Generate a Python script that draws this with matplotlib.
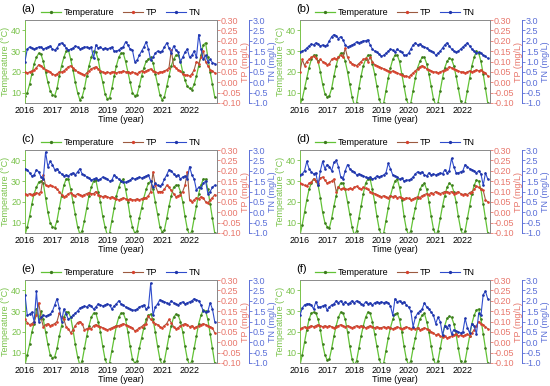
import numpy as np
import pandas as pd
import matplotlib
matplotlib.use("Agg")
import matplotlib.pyplot as plt
from matplotlib.ticker import FormatStrFormatter, MultipleLocator

plt.rcParams['font.family'] = ['Liberation Sans', 'DejaVu Sans']

# monthly samples, Jan 2016 - Dec 2022
months = pd.date_range("2016-01-01", periods=84, freq="MS")
year_ticks = [2016, 2017, 2018, 2019, 2020, 2021, 2022]
panel_labels = ["(a)", "(b)", "(c)", "(d)", "(e)", "(f)"]

# ---- (a) ----
temp_a = [8.5, 10, 14, 19, 24, 27, 29, 28.5, 25, 20, 15, 11,
          9, 8.5, 12, 18, 23, 27, 30, 30.5, 26, 21, 15, 10,
          6.5, 8, 12, 18, 23, 27, 30, 29.5, 26, 20, 15, 9.5,
          7, 7.5, 12, 18, 23, 27, 29, 29, 25, 20, 15, 10,
          8.5, 9, 13, 18, 22, 25, 26, 27, 24.5, 19, 14, 9,
          6.5, 8, 13, 18, 23, 26, 28, 28, 25, 20, 16, 13,
          12, 11.5, 14, 18, 23, 28, 33, 34, 27, 20, 14, 8]
tp_a = [0.05, 0.045, 0.05, 0.055, 0.06, 0.07, 0.085, 0.08, 0.07, 0.06, 0.055, 0.05,
        0.04, 0.035, 0.04, 0.05, 0.05, 0.055, 0.065, 0.075, 0.08, 0.07, 0.06, 0.05,
        0.045, 0.04, 0.035, 0.045, 0.055, 0.065, 0.07, 0.075, 0.065, 0.055, 0.05, 0.045,
        0.05, 0.045, 0.05, 0.05, 0.045, 0.05, 0.05, 0.055, 0.05, 0.05, 0.045, 0.05,
        0.045, 0.04, 0.05, 0.055, 0.05, 0.055, 0.06, 0.065, 0.055, 0.05, 0.045, 0.05,
        0.05, 0.055, 0.06, 0.07, 0.155, 0.08, 0.07, 0.06, 0.055, 0.04, 0.035, 0.035,
        0.03, 0.04, 0.06, 0.1, 0.09, 0.12, 0.15, 0.1, 0.08, 0.06, 0.055, 0.045]
tn_a = [1.0, 1.6, 1.7, 1.65, 1.6, 1.65, 1.7, 1.7, 1.6, 1.65, 1.7, 1.75,
        1.6, 1.55, 1.65, 1.85, 1.9, 1.8, 1.65, 1.55, 1.6, 1.65, 1.75, 1.7,
        1.6, 1.65, 1.7, 1.7, 1.65, 1.7, 1.15, 1.8, 1.65, 1.7, 1.6, 1.65,
        1.6, 1.65, 1.7, 1.5, 1.5, 1.55, 1.65, 1.7, 1.95, 1.8, 1.6, 1.55,
        1.0, 1.05, 1.3, 1.5, 1.7, 1.95, 1.6, 1.05, 1.2, 1.4, 1.5, 1.45,
        1.5, 1.7, 1.9, 1.65, 1.4, 1.75, 1.55, 1.45, 1.0, 1.2, 1.45, 1.6,
        1.2, 1.3, 1.5, 1.2, 2.3, 1.6, 1.1, 1.3, 1.0, 1.1, 0.95, 0.9]

# ---- (b) ----
temp_b = [4, 7, 12, 17, 22, 26, 28, 28, 25, 20, 14, 9.5,
          8, 8.5, 12, 18, 23, 27, 29, 29, 25, 20, 14, 8,
          4, 5, 12, 18, 23, 26, 28, 28, 24, 19, 13, 7,
          4, 5, 11, 17, 22, 26, 28, 28, 25, 19, 13, 7,
          4, 5, 11, 17, 22, 25, 27, 27, 24, 19, 13, 7,
          4, 5, 11, 17, 22, 25, 26.5, 26, 23, 18, 12, 6,
          4, 5, 11, 17, 23, 27, 30, 29, 25, 19, 12, 5]
tp_b = [0.05, 0.11, 0.08, 0.1, 0.11, 0.12, 0.125, 0.115, 0.1, 0.11, 0.1, 0.095,
        0.085, 0.09, 0.11, 0.115, 0.11, 0.12, 0.13, 0.12, 0.165, 0.12, 0.1, 0.09,
        0.085, 0.08, 0.09, 0.1, 0.11, 0.115, 0.1, 0.12, 0.1, 0.085, 0.08, 0.075,
        0.07, 0.065, 0.06, 0.055, 0.05, 0.055, 0.05, 0.045, 0.04, 0.035, 0.03, 0.03,
        0.025, 0.035, 0.045, 0.055, 0.065, 0.075, 0.08, 0.075, 0.065, 0.06, 0.055, 0.05,
        0.05, 0.045, 0.05, 0.055, 0.06, 0.065, 0.075, 0.07, 0.065, 0.06, 0.055, 0.05,
        0.05, 0.045, 0.05, 0.055, 0.05, 0.055, 0.06, 0.055, 0.06, 0.05, 0.045, 0.03]
tn_b = [1.45, 1.5, 1.55, 1.65, 1.75, 1.85, 1.8, 1.9, 1.85, 1.75, 1.8, 1.75,
        1.8, 2.0, 2.2, 2.3, 2.25, 2.1, 2.2, 2.05, 1.8, 1.7, 1.75, 1.8,
        1.85, 1.95, 1.9, 1.95, 2.0, 2.0, 2.05, 1.8, 1.6, 1.5, 1.45, 1.35,
        1.25, 1.3, 1.4, 1.5, 1.6, 1.55, 1.45, 1.6, 1.5, 1.45, 1.3, 1.3,
        1.4, 1.6, 1.8, 1.9, 1.8, 1.85, 1.75, 1.7, 1.65, 1.55, 1.5, 1.45,
        1.3, 1.4, 1.5, 1.65, 1.8, 1.9, 1.75, 1.6, 1.5, 1.45, 1.5, 1.6,
        1.7, 1.8, 1.9, 1.75, 1.6, 1.5, 1.4, 1.45, 1.4, 1.3, 1.25, 1.15]

# ---- (c) ----
temp_c = [4, 8, 13, 19, 24, 27, 29.5, 30, 29, 22, 15, 10,
          8, 7.5, 11, 17, 23, 28, 31, 31, 26, 20, 14, 8,
          4.5, 6, 11, 17, 23, 27, 30, 30.5, 25, 20, 13, 8,
          4, 5, 11, 17, 23, 27, 30, 31, 26, 20, 13, 8,
          5, 6, 12, 17, 22, 26, 29, 30, 26, 20, 14, 8,
          5.5, 6.5, 12, 18, 23, 27, 28, 28, 25, 20, 13, 7,
          4, 6, 12, 18, 24, 28, 31, 31, 26, 19, 12, 5]
tp_c = [0.09, 0.085, 0.09, 0.085, 0.09, 0.095, 0.09, 0.1, 0.18, 0.13, 0.125, 0.13,
        0.125, 0.12, 0.11, 0.1, 0.085, 0.075, 0.08, 0.09, 0.095, 0.085, 0.08, 0.09,
        0.085, 0.08, 0.085, 0.09, 0.095, 0.09, 0.09, 0.1, 0.085, 0.08, 0.075, 0.08,
        0.075, 0.07, 0.075, 0.07, 0.065, 0.06, 0.065, 0.07, 0.065, 0.06, 0.065, 0.06,
        0.06, 0.065, 0.06, 0.065, 0.07, 0.07, 0.08, 0.1, 0.195, 0.13, 0.1, 0.1,
        0.1, 0.11, 0.13, 0.12, 0.105, 0.09, 0.075, 0.08, 0.085, 0.1, 0.13, 0.195,
        0.06, 0.05, 0.06, 0.07, 0.065, 0.075, 0.07, 0.05, 0.045, 0.06, 0.07, 0.085]
tn_c = [2.1, 2.05, 1.9, 1.75, 1.8, 2.05, 1.95, 1.7, 1.6, 2.9, 2.2, 2.45,
        2.3, 2.05, 2.1, 1.95, 1.85, 1.75, 1.8, 1.75, 1.85, 1.9, 1.8, 1.95,
        2.1, 1.85, 1.8, 1.7, 1.65, 1.55, 1.6, 1.65, 1.55, 1.6, 1.7, 1.65,
        1.6, 1.5, 1.55, 1.8, 1.7, 1.6, 1.5, 1.47, 1.45, 1.5, 1.55, 1.65,
        1.6, 1.65, 1.7, 1.65, 1.7, 1.75, 1.8, 1.5, 1.2, 1.4, 1.3, 1.25,
        1.35, 1.6, 1.8, 2.05, 2.0, 1.85, 1.75, 1.8, 1.6, 1.7, 1.75, 1.6,
        2.2, 1.8, 1.6, 1.07, 1.2, 1.15, 1.4, 1.5, 0.9, 1.0, 1.2, 1.3]

# ---- (d) ----
temp_d = [4, 9, 15, 21, 26, 29, 31, 30, 28, 22, 15, 10,
          8, 7.5, 12, 18, 23, 27, 29, 29, 26, 20, 14, 8,
          4, 6, 12, 18, 24, 29, 31, 31, 26, 20, 13, 7,
          4, 5, 11, 17, 23, 27, 30, 31, 27, 21, 13, 7,
          4, 6, 12, 17, 22, 26, 28, 29, 26, 20, 13, 7,
          4, 6, 12, 18, 23, 27, 29, 28, 25, 20, 13, 7,
          4, 6, 12, 18, 24, 28, 30.5, 30, 26, 19, 12, 5]
tp_d = [0.14, 0.135, 0.13, 0.125, 0.14, 0.145, 0.16, 0.15, 0.14, 0.165, 0.17, 0.155,
        0.14, 0.145, 0.15, 0.16, 0.1, 0.12, 0.11, 0.115, 0.11, 0.11, 0.115, 0.11,
        0.12, 0.125, 0.115, 0.11, 0.12, 0.115, 0.11, 0.1, 0.095, 0.09, 0.085, 0.08,
        0.075, 0.08, 0.075, 0.07, 0.08, 0.075, 0.08, 0.07, 0.075, 0.07, 0.065, 0.07,
        0.067, 0.06, 0.065, 0.07, 0.075, 0.07, 0.08, 0.085, 0.09, 0.085, 0.095, 0.09,
        0.1, 0.095, 0.09, 0.095, 0.1, 0.1, 0.095, 0.1, 0.09, 0.095, 0.1, 0.09,
        0.085, 0.09, 0.085, 0.095, 0.1, 0.11, 0.125, 0.12, 0.11, 0.105, 0.06, 0.05]
tn_d = [1.8, 1.85, 2.0, 2.45, 2.1, 1.95, 1.85, 1.9, 1.3, 2.0, 2.45, 2.1,
        2.3, 2.2, 2.0, 2.4, 2.5, 2.2, 1.7, 1.6, 2.0, 2.3, 2.1, 2.0,
        1.95, 1.8, 1.85, 1.8, 1.75, 1.7, 1.65, 1.7, 1.6, 1.65, 1.75, 1.7,
        1.75, 1.8, 1.9, 2.35, 2.1, 1.8, 1.75, 1.7, 1.6, 1.65, 1.5, 1.55,
        1.55, 1.6, 1.7, 1.85, 1.95, 1.9, 1.95, 1.8, 1.75, 1.9, 1.8, 1.85,
        1.8, 1.85, 1.9, 1.85, 2.05, 1.9, 2.0, 2.6, 2.2, 1.9, 1.9, 1.95,
        2.0, 2.3, 2.2, 2.1, 2.05, 2.0, 1.9, 2.0, 1.85, 1.3, 1.9, 1.6]

# ---- (e) ----
temp_e = [4, 9, 14, 20, 24, 31, 26, 30, 26, 20, 14, 9,
          7.5, 8, 12, 18, 23, 27, 29.5, 29.5, 27, 21, 14, 8,
          4, 6, 12, 18, 23, 27, 29, 29, 25, 20, 13, 7,
          4, 5, 11, 17, 23, 27, 29, 29, 26, 20, 13, 7,
          5, 6, 12, 17, 22, 26, 28, 28.5, 26, 20, 13, 7,
          4, 6, 12, 18, 23, 27, 28.5, 28, 25, 20, 13, 7,
          4, 6, 12, 18, 24, 28, 30.5, 30, 26, 19, 12, 5]
tp_e = [0.11, 0.095, 0.085, 0.09, 0.1, 0.13, 0.19, 0.12, 0.075, 0.085, 0.09, 0.08,
        0.085, 0.09, 0.1, 0.14, 0.12, 0.11, 0.075, 0.065, 0.045, 0.06, 0.08, 0.095,
        0.1, 0.09, 0.06, 0.065, 0.07, 0.065, 0.08, 0.085, 0.08, 0.075, 0.07, 0.065,
        0.06, 0.065, 0.07, 0.075, 0.08, 0.08, 0.085, 0.09, 0.085, 0.08, 0.075, 0.07,
        0.055, 0.06, 0.07, 0.075, 0.085, 0.09, 0.125, 0.11, 0.1, 0.09, 0.085, 0.075,
        0.07, 0.08, 0.09, 0.11, 0.095, 0.075, 0.065, 0.07, 0.08, 0.085, 0.09, 0.085,
        0.075, 0.08, 0.07, 0.075, 0.08, 0.085, 0.09, 0.085, 0.08, 0.075, 0.07, 0.045]
tn_e = [2.3, 1.3, 1.35, 1.45, 1.0, 2.45, 1.0, 1.2, 1.3, 1.25, 1.3, 1.35,
        1.5, 1.8, 2.1, 1.65, 1.0, 1.6, 1.35, 1.1, 1.2, 1.3, 1.4, 1.5,
        1.65, 1.7, 1.75, 1.7, 1.8, 1.75, 1.6, 1.7, 1.85, 1.8, 1.75, 1.8,
        1.85, 1.8, 1.6, 1.75, 1.85, 2.0, 1.85, 1.8, 1.7, 1.65, 1.6, 1.55,
        1.55, 1.6, 1.7, 1.75, 1.8, 1.6, 1.7, 2.85, 1.3, 1.7, 1.85, 2.05,
        2.0, 1.95, 1.9, 1.85, 2.0, 1.9, 1.85, 1.8, 1.9, 1.95, 1.85, 1.9,
        1.95, 2.0, 2.1, 2.05, 2.0, 1.8, 1.5, 1.45, 1.5, 1.9, 1.6, 1.0]

# ---- (f) ----
temp_f = [4, 9, 15, 21, 26, 29, 29.5, 29, 26, 21, 14, 9,
          6.5, 7, 12, 18, 23, 27, 29.5, 29, 26, 20, 13, 7,
          4, 6, 12, 18, 23, 27, 29.5, 29, 25, 19, 13, 7,
          4, 5, 11, 17, 22, 26, 28.5, 29, 26, 20, 13, 7,
          4, 6, 12, 17, 22, 26, 28, 29, 25, 20, 13, 7,
          4, 6, 12, 18, 23, 26.5, 27.5, 27, 24, 19, 12, 6,
          4, 6, 12, 18, 24, 28, 30.5, 31, 26, 19, 12, 5]
tp_f = [0.065, 0.07, 0.075, 0.07, 0.075, 0.08, 0.075, 0.08, 0.085, 0.08, 0.075, 0.08,
        0.075, 0.08, 0.075, 0.07, 0.075, 0.08, 0.085, 0.08, 0.075, 0.08, 0.075, 0.07,
        0.075, 0.08, 0.075, 0.08, 0.075, 0.07, 0.075, 0.08, 0.075, 0.07, 0.075, 0.07,
        0.07, 0.075, 0.07, 0.075, 0.07, 0.065, 0.07, 0.075, 0.07, 0.065, 0.07, 0.075,
        0.07, 0.065, 0.07, 0.065, 0.07, 0.06, 0.065, 0.07, 0.065, 0.06, 0.05, 0.045,
        0.035, 0.04, 0.03, 0.025, 0.03, 0.02, 0.025, 0.03, 0.035, 0.04, 0.03, 0.035,
        0.03, 0.035, 0.04, 0.03, 0.045, 0.06, 0.08, 0.1, 0.09, 0.085, 0.075, 0.065]
tn_f = [1.3, 1.65, 1.8, 1.85, 1.85, 1.8, 1.6, 1.95, 1.7, 1.7, 1.75, 1.8,
        1.55, 1.7, 1.8, 1.85, 2.0, 1.9, 2.0, 1.85, 1.95, 1.85, 1.9, 2.0,
        1.9, 2.0, 1.95, 1.85, 1.8, 1.95, 1.85, 1.9, 1.8, 1.9, 1.95, 1.9,
        1.95, 1.9, 1.95, 1.9, 1.75, 1.3, 2.1, 1.95, 2.0, 1.9, 1.95, 1.8,
        1.7, 1.5, 0.75, 1.2, 1.4, 1.5, 1.6, 1.9, 1.7, 1.6, 1.45, 1.3,
        0.9, 1.2, 1.0, 0.35, 0.8, 0.7, 0.85, 0.4, 0.6, 0.55, 0.5, 0.45,
        0.5, 1.15, 0.7, 0.45, 0.9, 0.8, 0.4, 1.4, 1.3, 2.3, 2.45, 2.1]

temps = [temp_a, temp_b, temp_c, temp_d, temp_e, temp_f]
tps = [tp_a, tp_b, tp_c, tp_d, tp_e, tp_f]
tns = [tn_a, tn_b, tn_c, tn_d, tn_e, tn_f]

# colours
GREEN_LINE, GREEN_MK, GREEN_TXT = "#62c236", "#3d7a1e", "#79c24a"
RED_LINE, RED_MK, RED_TXT = "#9c5a40", "#d8402c", "#e8776c"
BLUE_LINE, BLUE_MK, BLUE_TXT = "#2f4ccc", "#1f34a8", "#5b6fd8"
FRAME = "#8a8a8a"

t = months.year + (months.month - 1) / 12.0

fig = plt.figure(figsize=(5.5, 3.86), dpi=100)

W, H = 550.0, 386.0
col_left = [25, 300]
col_width = [192, 190]
row_top = [20, 150, 280]
ax_h = 83

FS = 6.5
MS = 0.9

for i in range(6):
    r, c = divmod(i, 2)
    rect = [col_left[c] / W, 1 - (row_top[r] + ax_h) / H, col_width[c] / W, ax_h / H]
    ax = fig.add_axes(rect)
    ax2 = ax.twinx()
    ax3 = ax.twinx()
    ax3.spines["right"].set_position(("outward", 23))

    l1, = ax.plot(t, temps[i], color=GREEN_LINE, lw=0.9, marker="o", ms=MS,
                  mfc=GREEN_MK, mec=GREEN_MK, label="Temperature")
    l2, = ax2.plot(t, tps[i], color=RED_LINE, lw=0.8, marker="o", ms=MS,
                   mfc=RED_MK, mec=RED_MK, label="TP")
    l3, = ax3.plot(t, tns[i], color=BLUE_LINE, lw=0.8, marker="o", ms=MS,
                   mfc=BLUE_MK, mec=BLUE_MK, label="TN")

    ax.set_xlim(2016, 2023)
    ax.set_ylim(5, 45)
    ax2.set_ylim(-0.10, 0.30)
    ax3.set_ylim(-1.0, 3.0)

    ax.set_xticks(year_ticks)
    ax.set_xticklabels([str(y) for y in year_ticks])
    ax.set_yticks([10, 20, 30, 40])
    ax2.yaxis.set_major_locator(MultipleLocator(0.05))
    ax2.yaxis.set_major_formatter(FormatStrFormatter("%.2f"))
    ax3.yaxis.set_major_locator(MultipleLocator(0.5))
    ax3.yaxis.set_major_formatter(FormatStrFormatter("%.1f"))

    ax.tick_params(axis="x", labelsize=FS, length=0, pad=2, colors="black")
    ax.tick_params(axis="y", labelsize=FS, length=2, width=0.6, pad=0.8,
                   colors=GREEN_TXT)
    ax2.tick_params(axis="y", labelsize=FS, length=2, width=0.6, pad=0.8,
                    colors=RED_TXT)
    ax3.tick_params(axis="y", labelsize=FS, length=2, width=0.6, pad=0.8,
                    colors=BLUE_TXT)

    for sp in ["top", "right", "bottom"]:
        ax.spines[sp].set_color(FRAME)
        ax.spines[sp].set_linewidth(0.7)
    ax.spines["left"].set_color(GREEN_TXT)
    ax.spines["left"].set_linewidth(0.7)
    ax2.spines["right"].set_color(FRAME)
    ax2.spines["right"].set_linewidth(0.7)
    ax3.spines["right"].set_color(BLUE_TXT)
    ax3.spines["right"].set_linewidth(0.7)
    for a in (ax2, ax3):
        for sp in ["top", "left", "bottom"]:
            a.spines[sp].set_visible(False)

    ax.set_ylabel("Temperature (°C)", color=GREEN_TXT, fontsize=FS, labelpad=0.5)
    ax2.set_ylabel("TP (mg/L)", color=RED_TXT, fontsize=FS, labelpad=0)
    ax3.set_ylabel("TN (mg/L)", color=BLUE_TXT, fontsize=FS, labelpad=0)
    ax.set_xlabel("Time (year)", fontsize=FS, labelpad=0)

    ax3.legend([l1, l2, l3], ["Temperature", "TP", "TN"], loc="lower center",
               bbox_to_anchor=(0.5, 0.99), ncol=3, frameon=False, fontsize=FS,
               handlelength=2.2, handletextpad=0.3, columnspacing=1.0,
               borderaxespad=0, markerscale=1.5)

    ax.text(-0.02, 1.13, panel_labels[i], transform=ax.transAxes, fontsize=8,
            va="center", ha="left")

fig.savefig("out.png", dpi=100)
